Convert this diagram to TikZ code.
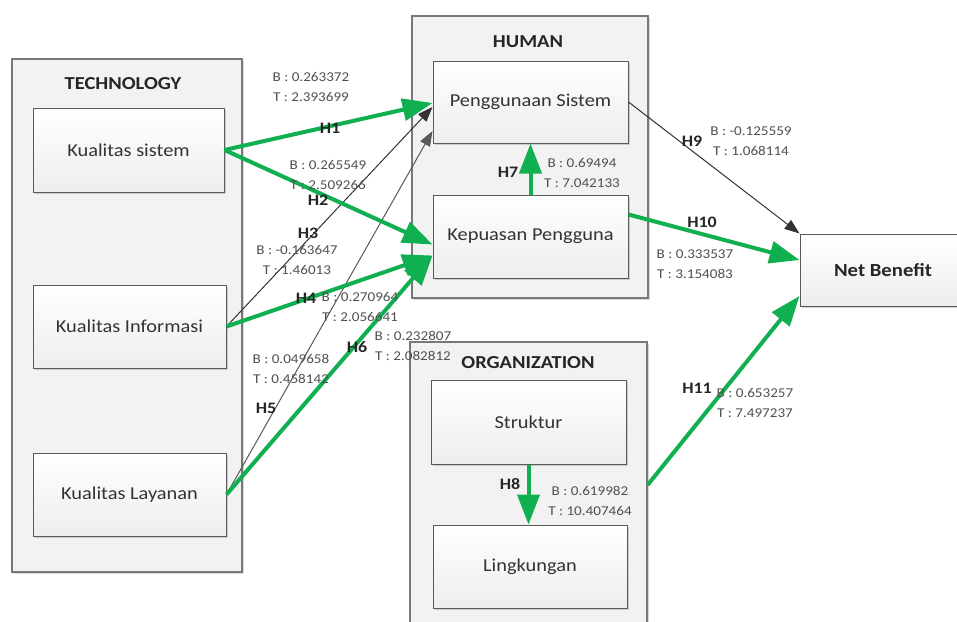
\documentclass[tikz,border=0pt]{standalone}
\usepackage{fontspec}
\setmainfont{Carlito}[FakeStretch=1.12]
\usetikzlibrary{arrows.meta,shadows,calc}
\definecolor{hgreen}{RGB}{16,176,80}
\definecolor{grpfill}{RGB}{242,242,242}
\definecolor{grpline}{RGB}{120,120,120}
\definecolor{boxline}{RGB}{90,90,90}
\definecolor{stattext}{RGB}{80,80,80}
\newcommand\bxfnt{\fontsize{18.2}{22}\selectfont}
\newcommand\ttlfnt{\fontsize{18.3}{22}\selectfont}
\newcommand\hypfnt{\fontsize{16}{19}\selectfont}
\newcommand\statfnt{\fontsize{13.5}{20}\selectfont}
\begin{document}
\begin{tikzpicture}[x=1pt,y=-1pt,
  group/.style={rectangle, draw=grpline, line width=1.2pt, fill=grpfill, inner sep=0pt,
    drop shadow={shadow xshift=1.5pt, shadow yshift=-1.5pt, opacity=.3}},
  var/.style={rectangle, draw=boxline, line width=1pt, top color=white, bottom color=gray!14,
    inner sep=0pt, font=\bxfnt, text=black!80,
    drop shadow={shadow xshift=1.5pt, shadow yshift=-1.5pt, opacity=.35}},
  grptitle/.style={font=\ttlfnt\bfseries, text=black!85, inner sep=0pt},
  hyp/.style={font=\hypfnt\bfseries, text=black!85, inner sep=0pt},
  stat/.style={font=\statfnt, text=stattext, align=center, inner sep=0pt},
  strong/.style={draw=hgreen, line width=4pt, -{Triangle[length=30pt,width=22pt]}},
  weak/.style={draw=black!80, line width=1pt, -{Triangle[length=15pt,width=11pt]}},
  weakgray/.style={draw=black!65, line width=1pt, -{Triangle[length=15pt,width=11pt]}},
]
\fill[white] (0,0) rectangle (957,621);
\useasboundingbox (0,0) rectangle (957,621);

% construct groups
\node[group, minimum width=230pt, minimum height=513pt] (tech) at (127,315.5) {};
\node[group, minimum width=236pt, minimum height=282pt] (human) at (530,157) {};
\node[group, minimum width=237pt, minimum height=298pt] (org) at (528.5,491) {};

\node[grptitle] (techtitle) at (123,84) {TECHNOLOGY};
\node[grptitle] (humantitle) at (528,42) {HUMAN};
\node[grptitle] (orgtitle) at (528,363) {ORGANIZATION};

% variables
\node[var, minimum width=191pt, minimum height=84pt] (ks) at (128.5,150) {Kualitas sistem};
\node[var, minimum width=193pt, minimum height=83pt] (ki) at (129.5,326.5) {Kualitas Informasi};
\node[var, minimum width=193pt, minimum height=83pt] (kl) at (129.5,494.5) {Kualitas Layanan};
\node[var, minimum width=195pt, minimum height=82pt] (ps) at (530.5,102) {Penggunaan Sistem};
\node[var, minimum width=195pt, minimum height=83pt] (kp) at (530.5,236.5) {Kepuasan Pengguna};
\node[var, minimum width=195pt, minimum height=84pt] (st) at (528.5,422) {Struktur};
\node[var, minimum width=194pt, minimum height=83pt] (lk) at (530,566.5) {Lingkungan};
\node[var, minimum width=166pt, minimum height=72pt, font=\fontsize{18.5}{22}\selectfont\bfseries, text=black!85] (nb) at (883,270) {Net Benefit};

% paths
\draw[weak] (ki.east) -- ($(ps.west)+(0,5)$);
\draw[weakgray] (kl.east) -- ($(ps.west)+(0,29)$);
\draw[strong] (ks.east) -- ($(ps.west)+(0,1)$);
\draw[strong] (ks.east) -- ($(kp.west)+(0,8)$);
\draw[strong] (ki.east) -- ($(kp.west)+(0,19)$);
\draw[strong] (kl.east) -- ($(kp.west)+(0,19)$);
\draw[strong] (kp.north) -- (kp.north |- ps.south);
\draw[strong] (st.south) -- (st.south |- lk.north);
\draw[weak] (ps.east) -- (nb.north west);
\draw[strong] ($(kp.east)+(0,-22)$) -- ($(nb.west)+(0,-10)$);
\draw[strong] ($(org.east)+(0,-6)$) -- ($(nb.west)+(0,26)$);

% path coefficients
\node[stat] (s1) at (311,86.5) {B : 0.263372\\T : 2.393699};
\node[hyp] (h1) at (330,128) {H1};
\node[stat] (s2) at (328,174.5) {B : 0.265549\\T : 2.509266};
\node[hyp] (h2) at (318,200) {H2};
\node[hyp] (h3) at (308,233) {H3};
\node[stat] (s3) at (297,259.5) {B : -0.163647\\T : 1.46013};
\node[stat] (s4) at (360,307) {B : 0.270964\\T : 2.056641};
\node[hyp] (h4) at (306,298) {H4};
\node[stat] (s5) at (291,368.5) {B : 0.049658\\T : 0.458142};
\node[hyp] (h5) at (266,408) {H5};
\node[stat] (s6) at (413,345.5) {B : 0.232807\\T : 2.082812};
\node[hyp] (h6) at (357,347) {H6};
\node[hyp] (h7) at (508,172) {H7};
\node[stat] (s7) at (582,173) {B : 0.69494\\T : 7.042133};
\node[hyp] (h8) at (510,484) {H8};
\node[stat] (s8) at (590,501) {B : 0.619982\\T : 10.407464};
\node[hyp] (h9) at (692,141) {H9};
\node[stat] (s9) at (751,141) {B : -0.125559\\T : 1.068114};
\node[hyp] (h10) at (702,222) {H10};
\node[stat] (s10) at (695,264) {B : 0.333537\\T : 3.154083};
\node[hyp] (h11) at (697,388) {H11};
\node[stat] (s11) at (755,403) {B : 0.653257\\T : 7.497237};
\end{tikzpicture}
\end{document}
